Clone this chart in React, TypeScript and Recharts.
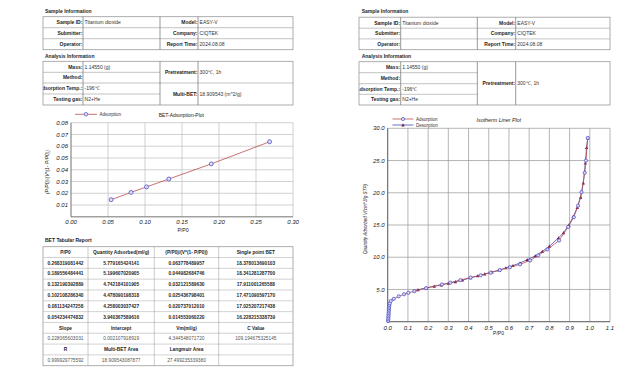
import React from 'react';
import { ScatterChart, Scatter, XAxis, YAxis, CartesianGrid } from 'recharts';

const FONT = '"Liberation Sans", Arial, Helvetica, sans-serif';

// ---- Sample / analysis information ----
const sampleLabelsA = ['Sample ID:', 'Submitter:', 'Operator:'];
const sampleValuesA = ['Titanium dioxide', '', ''];
const sampleLabelsB = ['Model:', 'Company:', 'Report Time:'];
const sampleValuesB = ['EASY-V', 'CIQTEK', '2024.08.08'];
const analysisLabels = ['Mass:', 'Method:', 'Adsorption Temp.:', 'Testing gas:'];
const analysisValues = ['1.14550 (g)', '', '-196℃', 'N2+He'];
const pretreatmentValue = '300℃, 1h';
const multiBetValue = '18.909543 (m^2/g)';

// ---- BET tabular report ----
const betHeaders = ['P/P0', 'Quantity Adsorbed(ml/g)', '(P/P0)/(V*(1- P/P0))', 'Single point BET'];
const betPP0 = ['0.268319081442', '0.189556484441', '0.132190392889', '0.102108286340', '0.081134247258', '0.054234474832'];
const betQuantity = ['5.779165424141', '5.199607020905', '4.742184101905', '4.478090198318', '4.258003037427', '3.940367589616'];
const betTransform = ['0.063778489957', '0.044982684746', '0.032121589630', '0.025436798401', '0.020737012010', '0.014553060220'];
const betSingle = ['18.378013690103', '18.341281287700', '17.911001265588', '17.471090597170', '17.025207217438', '16.228215338739'];
const summaryHeaders1 = ['Slope', 'Intercept', 'Vm(ml/g)', 'C Value'];
const summaryValues1 = ['0.228065603031', '0.002107918919', '4.344548071720', '109.194675325145'];
const summaryHeaders2 = ['R', 'Multi-BET Area', 'Langmuir Area', ''];
const summaryValues2 = ['0.999929775592', '18.909543087877', '27.499235339380', ''];

// ---- BET plot ticks ----
const betXTicks = [0, 0.05, 0.1, 0.15, 0.2, 0.25, 0.3];
const betYTicks = [0.01, 0.02, 0.03, 0.04, 0.05, 0.06, 0.07, 0.08];

// ---- Isotherm data ----
const adsP = [0.002, 0.003, 0.003, 0.004, 0.004, 0.005, 0.005, 0.006, 0.006, 0.007, 0.008, 0.010, 0.015, 0.030,
  0.0542, 0.0811, 0.1022, 0.1322, 0.1896, 0.2683, 0.31, 0.36, 0.41, 0.46, 0.51, 0.555, 0.605, 0.655, 0.705,
  0.745, 0.79, 0.848, 0.893, 0.921, 0.942, 0.959, 0.975, 0.981, 0.99];
const adsV = [0.1, 0.35, 0.6, 0.85, 1.1, 1.35, 1.6, 1.85, 2.1, 2.35, 2.6, 2.85, 3.2, 3.55,
  3.94, 4.26, 4.48, 4.74, 5.2, 5.78, 6.05, 6.45, 6.85, 7.2, 7.6, 8.0, 8.45, 8.9, 9.5,
  10.3, 11.2, 12.6, 14.7, 16.2, 18.0, 20.1, 23.1, 25.0, 28.5];
const desP = [0.99, 0.984, 0.978, 0.968, 0.955, 0.938, 0.918, 0.897, 0.87, 0.845, 0.8, 0.765, 0.73, 0.69, 0.655,
  0.62, 0.585, 0.55, 0.515, 0.48, 0.445, 0.41, 0.37, 0.335, 0.3, 0.265, 0.23, 0.19, 0.15, 0.13];
const desV = [28.5, 27.0, 24.6, 21.5, 19.3, 17.7, 16.3, 15.0, 13.8, 13.0, 11.7, 10.9, 10.2, 9.6, 9.1,
  8.7, 8.35, 8.0, 7.7, 7.4, 7.1, 6.8, 6.45, 6.2, 5.95, 5.7, 5.5, 5.25, 4.95, 4.8];
const isoXTicks = [0, 0.1, 0.2, 0.3, 0.4, 0.5, 0.6, 0.7, 0.8, 0.9, 1.0, 1.1];
const isoYTicks = [5, 10, 15, 20, 25, 30];

const betPoints = betPP0.map((p, i) => ({ x: parseFloat(p), y: parseFloat(betTransform[i]) }));
const adsPoints = adsP.map((p, i) => ({ x: p, y: adsV[i] }));
const desPoints = desP.map((p, i) => ({ x: p, y: desV[i] }));

const ADS_LINE = '#b9504f';
const DES_LINE = '#3a4cb4';
const CIRCLE_STROKE = '#4a4ac4';
const CIRCLE_FILL = '#dcdcf6';
const TRI_FILL = '#7a1f48';

const CircleDot = (props: any) => {
  const { cx, cy } = props;
  if (cx == null || cy == null) return null;
  return <circle cx={cx} cy={cy} r={1.6} fill={CIRCLE_FILL} stroke={CIRCLE_STROKE} strokeWidth={0.75} />;
};
const BigCircleDot = (props: any) => {
  const { cx, cy } = props;
  if (cx == null || cy == null) return null;
  return <circle cx={cx} cy={cy} r={2} fill={CIRCLE_FILL} stroke={CIRCLE_STROKE} strokeWidth={0.75} />;
};
const TriDot = (props: any) => {
  const { cx, cy } = props;
  if (cx == null || cy == null) return null;
  const s = 1.7;
  return <polygon points={`${cx},${cy - s} ${cx - s},${cy + s * 0.85} ${cx + s},${cy + s * 0.85}`} fill={TRI_FILL} />;
};

const LINE = '#9a9a9a';
const VLINE = '#6e6e6e';
const TXT = '#1e1e1e';

type CellTextProps = { x: number; y: number; text: string; anchor?: 'start' | 'middle' | 'end'; bold?: boolean; size?: number; color?: string; clip?: string };
const T = ({ x, y, text, anchor = 'start', bold = false, size = 5, color = TXT, clip }: CellTextProps) => (
  <text x={x} y={y} textAnchor={anchor} fontFamily={FONT} fontSize={size} fontWeight={bold ? 700 : 400} fill={color} clipPath={clip}>
    {text}
  </text>
);

const mid = (a: number, b: number, size = 5) => (a + b) / 2 + size * 0.36;

function SampleTable({ cols, rows }: { cols: number[]; rows: number[] }) {
  return (
    <g>
      <rect x={cols[0]} y={rows[0]} width={cols[4] - cols[0]} height={rows[3] - rows[0]} fill="none" stroke={LINE} strokeWidth={0.8} />
      {rows.slice(1, 3).map((r, i) => (
        <line key={'h' + i} x1={cols[0]} x2={cols[4]} y1={r} y2={r} stroke={LINE} strokeWidth={0.6} />
      ))}
      {cols.slice(1, 4).map((c, i) => (
        <line key={'v' + i} x1={c} x2={c} y1={rows[0]} y2={rows[3]} stroke={VLINE} strokeWidth={0.7} />
      ))}
      {sampleLabelsA.map((l, i) => (
        <T key={'la' + i} x={cols[1] - 0.6} y={mid(rows[i], rows[i + 1])} text={l} anchor="end" bold />
      ))}
      {sampleValuesA.map((v, i) => (
        <T key={'va' + i} x={cols[1] + 1.6} y={mid(rows[i], rows[i + 1])} text={v} color="#333" />
      ))}
      {sampleLabelsB.map((l, i) => (
        <T key={'lb' + i} x={cols[3] - 0.6} y={mid(rows[i], rows[i + 1])} text={l} anchor="end" bold />
      ))}
      {sampleValuesB.map((v, i) => (
        <T key={'vb' + i} x={cols[3] + 1.6} y={mid(rows[i], rows[i + 1])} text={v} color="#333" />
      ))}
    </g>
  );
}

function AnalysisTable({ cols, rows, withBet, clipId }: { cols: number[]; rows: number[]; withBet: boolean; clipId: string }) {
  return (
    <g>
      <defs>
        <clipPath id={clipId}>
          <rect x={cols[0] + 0.3} y={rows[0]} width={cols[1] - cols[0]} height={rows[4] - rows[0]} />
        </clipPath>
      </defs>
      <rect x={cols[0]} y={rows[0]} width={cols[4] - cols[0]} height={rows[4] - rows[0]} fill="none" stroke={LINE} strokeWidth={0.8} />
      {rows.slice(1, 4).map((r, i) => (
        <line key={'h' + i} x1={cols[0]} x2={cols[2]} y1={r} y2={r} stroke={LINE} strokeWidth={0.6} />
      ))}
      {withBet && <line x1={cols[2]} x2={cols[4]} y1={rows[2]} y2={rows[2]} stroke={LINE} strokeWidth={0.6} />}
      {cols.slice(1, 4).map((c, i) => (
        <line key={'v' + i} x1={c} x2={c} y1={rows[0]} y2={rows[4]} stroke={VLINE} strokeWidth={0.7} />
      ))}
      {analysisLabels.map((l, i) => (
        <T key={'l' + i} x={cols[1] - 0.6} y={mid(rows[i], rows[i + 1])} text={l} anchor="end" bold clip={`url(#${clipId})`} />
      ))}
      {analysisValues.map((v, i) => (
        <T key={'v' + i} x={cols[1] + 1.6} y={mid(rows[i], rows[i + 1])} text={v} color="#333" />
      ))}
      {withBet ? (
        <>
          <T x={cols[3] - 0.6} y={mid(rows[0], rows[2])} text="Pretreatment:" anchor="end" bold />
          <T x={cols[3] + 1.6} y={mid(rows[0], rows[2])} text={pretreatmentValue} color="#333" />
          <T x={cols[3] - 0.6} y={mid(rows[2], rows[4])} text="Multi-BET:" anchor="end" bold />
          <T x={cols[3] + 1.6} y={mid(rows[2], rows[4])} text={multiBetValue} color="#333" />
        </>
      ) : (
        <>
          <T x={cols[3] - 0.6} y={mid(rows[0], rows[4])} text="Pretreatment:" anchor="end" bold />
          <T x={cols[3] + 1.6} y={mid(rows[0], rows[4])} text={pretreatmentValue} color="#333" />
        </>
      )}
    </g>
  );
}

function BetTable() {
  const cols = [43, 88, 154.3, 218.7, 293];
  const top = 246.7;
  const rh = 10.82;
  const rowsText: { cells: string[]; bold: boolean; color: string }[] = [
    { cells: betHeaders, bold: true, color: TXT },
    ...betPP0.map((p, i) => ({ cells: [p, betQuantity[i], betTransform[i], betSingle[i]], bold: true, color: '#2a2a2a' })),
    { cells: summaryHeaders1, bold: true, color: TXT },
    { cells: summaryValues1, bold: false, color: '#555' },
    { cells: summaryHeaders2, bold: true, color: TXT },
    { cells: summaryValues2, bold: false, color: '#555' },
  ];
  const n = rowsText.length;
  return (
    <g>
      <rect x={cols[0]} y={top} width={cols[4] - cols[0]} height={rh * n} fill="none" stroke={LINE} strokeWidth={0.8} />
      {rowsText.slice(1).map((_, i) => (
        <line key={'h' + i} x1={cols[0]} x2={cols[4]} y1={top + rh * (i + 1)} y2={top + rh * (i + 1)} stroke="#b4b4b4" strokeWidth={0.6} />
      ))}
      {cols.slice(1, 4).map((c, i) => (
        <line key={'v' + i} x1={c} x2={c} y1={top} y2={top + rh * n} stroke="#a8a8a8" strokeWidth={0.6} />
      ))}
      {rowsText.map((r, ri) =>
        r.cells.map((c, ci) => (
          <T key={ri + '-' + ci} x={(cols[ci] + cols[ci + 1]) / 2} y={mid(top + rh * ri, top + rh * (ri + 1), 4.8)} text={c} anchor="middle" bold={r.bold} size={4.8} color={r.color} />
        ))
      )}
    </g>
  );
}

const tickStyle = { fontSize: 6, fontStyle: 'italic', fill: '#222', fontFamily: FONT };

export default function App() {
  return (
    <div style={{ position: 'absolute', left: 0, top: 0, width: 640, height: 385, background: '#fff', overflow: 'hidden' }}>
      {/* BET plot */}
      <div style={{ position: 'absolute', left: 40, top: 110 }}>
        <ScatterChart width={260} height={125} margin={{ top: 12.7, right: 7, bottom: 8.2, left: 0 }}>
          <CartesianGrid stroke="#bdbdbd" strokeWidth={0.7} />
          <XAxis type="number" dataKey="x" domain={[0, 0.3]} ticks={betXTicks} tickFormatter={(v: number) => v.toFixed(2)}
            tick={tickStyle} tickLine={false} tickSize={0} tickMargin={3} height={10} axisLine={{ stroke: '#707070', strokeWidth: 0.8 }} interval={0} />
          <YAxis type="number" dataKey="y" domain={[0, 0.08]} ticks={betYTicks} tickFormatter={(v: number) => v.toFixed(2)}
            tick={tickStyle} tickLine={false} tickSize={0} tickMargin={3} width={31} axisLine={{ stroke: '#707070', strokeWidth: 0.8 }} interval={0} />
          <Scatter data={betPoints} line={{ stroke: ADS_LINE, strokeWidth: 0.8 }} lineType="joint" shape={BigCircleDot} isAnimationActive={false} />
        </ScatterChart>
      </div>

      {/* Isotherm plot */}
      <div style={{ position: 'absolute', left: 355, top: 112 }}>
        <ScatterChart width={260} height={230} margin={{ top: 16.3, right: 5, bottom: 10.3, left: 0 }}>
          <CartesianGrid stroke="#969696" strokeWidth={0.7} />
          <XAxis type="number" dataKey="x" domain={[0, 1.1]} ticks={isoXTicks} tickFormatter={(v: number) => v.toFixed(1)}
            tick={tickStyle} tickLine={false} tickSize={0} tickMargin={4} height={10} axisLine={{ stroke: '#606060', strokeWidth: 0.9 }} interval={0} />
          <YAxis type="number" dataKey="y" domain={[0, 30]} ticks={isoYTicks} tickFormatter={(v: number) => v.toFixed(1)}
            tick={tickStyle} tickLine={false} tickSize={0} tickMargin={3} width={32.7} axisLine={{ stroke: '#606060', strokeWidth: 0.9 }} interval={0} />
          <Scatter data={desPoints} line={{ stroke: DES_LINE, strokeWidth: 0.8 }} lineType="joint" shape={TriDot} isAnimationActive={false} />
          <Scatter data={adsPoints} line={{ stroke: ADS_LINE, strokeWidth: 0.8 }} lineType="joint" shape={CircleDot} isAnimationActive={false} />
        </ScatterChart>
      </div>

      {/* Text, tables, titles, legends */}
      <svg width={640} height={385} style={{ position: 'absolute', left: 0, top: 0, pointerEvents: 'none' }}>
        {/* Left page */}
        <T x={45} y={13.4} text="Sample Information" bold />
        <SampleTable cols={[43, 83, 160, 198, 293]} rows={[16.7, 27.7, 38.7, 49.7]} />
        <T x={45} y={58.4} text="Analysis Information" bold />
        <AnalysisTable cols={[43, 83, 160, 198, 293]} rows={[61.3, 72.3, 83, 94, 105]} withBet clipId="clipA" />

        {/* BET plot decorations */}
        <line x1={75} x2={97} y1={114.3} y2={114.3} stroke={ADS_LINE} strokeWidth={0.8} />
        <circle cx={86} cy={114.3} r={1.8} fill={CIRCLE_FILL} stroke={CIRCLE_STROKE} strokeWidth={0.7} />
        <T x={99.5} y={116} text="Adsorption" size={4.5} color="#333" />
        <T x={181.3} y={117} text="BET-Adsorption-Plot" anchor="middle" size={5} color="#222" />
        <text x={0} y={0} transform="translate(48.5,172) rotate(-90)" textAnchor="middle" fontFamily={FONT} fontSize={5} fontStyle="italic" fill="#222">
          (P/P0)/(V*(1- P/P0))
        </text>
        <text x={183} y={232} textAnchor="middle" fontFamily={FONT} fontSize={5.2} fill="#222">P/P0</text>

        <T x={45} y={242.4} text="BET Tabular Report" bold />
        <BetTable />

        {/* Right page */}
        <T x={361.7} y={13.4} text="Sample Information" bold />
        <SampleTable cols={[359, 400.7, 477.3, 515.7, 610]} rows={[17.2, 28.2, 38.9, 49.7]} />
        <T x={361.7} y={58.4} text="Analysis Information" bold />
        <AnalysisTable cols={[359, 400.7, 477.3, 515.7, 610]} rows={[61.7, 72.7, 83.7, 94.3, 105]} withBet={false} clipId="clipB" />

        {/* Isotherm decorations */}
        <line x1={392.5} x2={413.5} y1={119} y2={119} stroke={ADS_LINE} strokeWidth={0.8} />
        <circle cx={403} cy={119} r={1.6} fill={CIRCLE_FILL} stroke={CIRCLE_STROKE} strokeWidth={0.7} />
        <T x={416} y={120.6} text="Adsorption" size={4.5} color="#333" />
        <line x1={392.5} x2={413.5} y1={125} y2={125} stroke={DES_LINE} strokeWidth={0.8} />
        <polygon points="403,123.3 401.3,126.5 404.7,126.5" fill={TRI_FILL} />
        <T x={416} y={126.6} text="Desorption" size={4.5} color="#333" />
        <text x={498.8} y={122} textAnchor="middle" fontFamily={FONT} fontSize={5.3} fontStyle="italic" fill="#222">Isotherm Liner Plot</text>
        <text x={0} y={0} transform="translate(367,219) rotate(-90)" textAnchor="middle" fontFamily={FONT} fontSize={4.6} fontStyle="italic" fill="#222">
          Quantity Adsorbed V(cm^3/g STP)
        </text>
        <text x={498.5} y={335} textAnchor="middle" fontFamily={FONT} fontSize={5} fill="#222">P/P0</text>
      </svg>
    </div>
  );
}
